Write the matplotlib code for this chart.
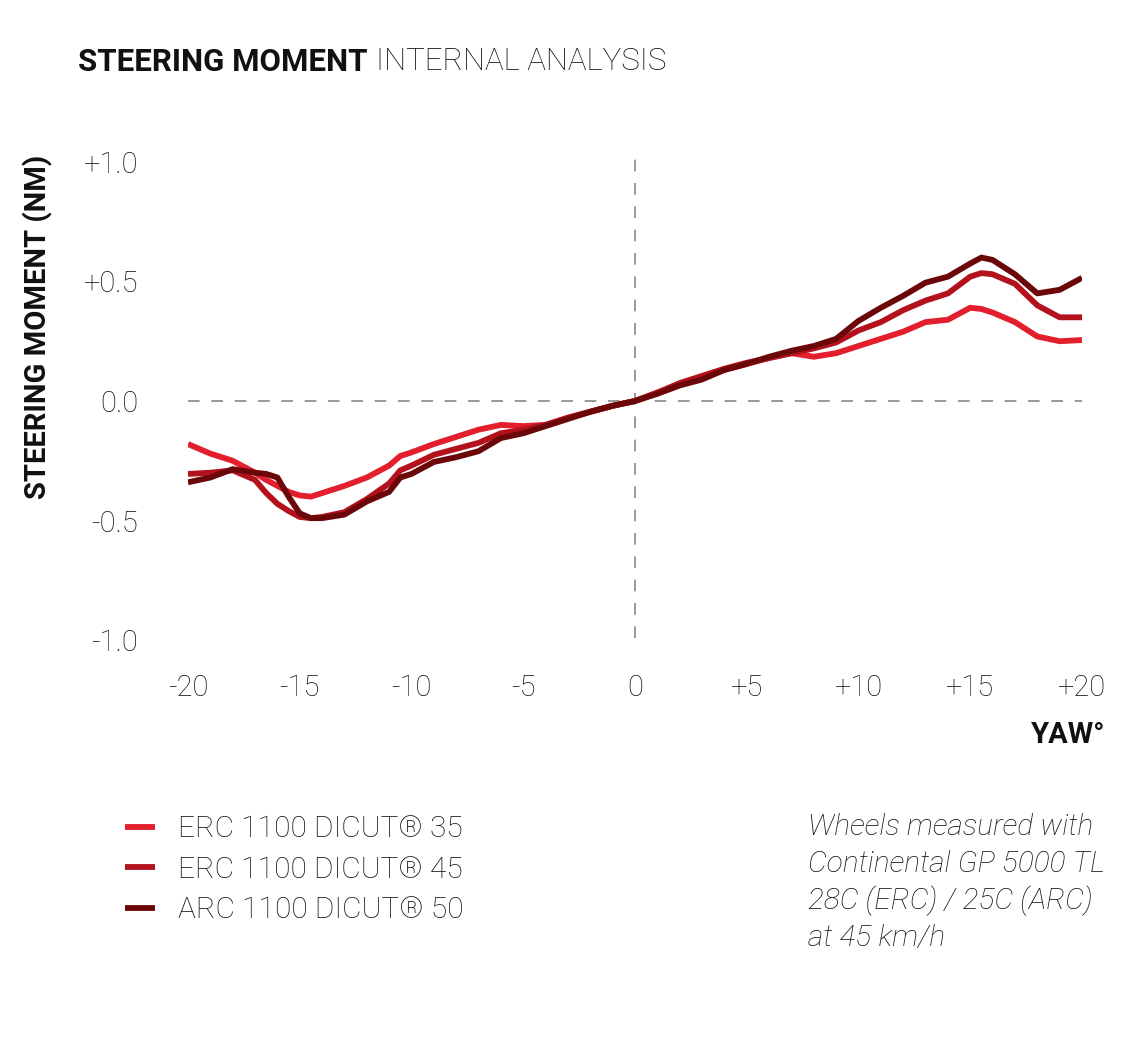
import matplotlib
matplotlib.use("Agg")
import matplotlib.pyplot as plt

# yaw angle in degrees
yaw = [-20, -19, -18, -17, -16.5, -16, -15.5, -15, -14.5, -14, -13, -12, -11, -10.5, -10,
       -9, -8, -7, -6, -5, -4, -3, -2, -1, 0, 1, 2, 3, 4, 5, 6, 7, 8, 9, 10, 11, 12, 13,
       14, 15, 15.5, 16, 17, 18, 19, 20]

# steering moment (Nm)
erc35 = [-0.18, -0.22, -0.25, -0.30, -0.33, -0.355, -0.38, -0.395, -0.40, -0.385, -0.355,
         -0.32, -0.27, -0.23, -0.215, -0.18, -0.15, -0.12, -0.10, -0.105, -0.10, -0.07,
         -0.045, -0.02, 0.0, 0.035, 0.07, 0.10, 0.13, 0.155, 0.18, 0.20, 0.185, 0.20, 0.23,
         0.26, 0.29, 0.33, 0.34, 0.39, 0.385, 0.37, 0.33, 0.27, 0.25, 0.255]
erc45 = [-0.305, -0.30, -0.29, -0.33, -0.385, -0.43, -0.46, -0.485, -0.49, -0.485, -0.465,
         -0.41, -0.345, -0.29, -0.27, -0.225, -0.20, -0.175, -0.135, -0.12, -0.10, -0.07,
         -0.045, -0.02, 0.0, 0.035, 0.075, 0.105, 0.135, 0.16, 0.18, 0.20, 0.22, 0.245,
         0.295, 0.33, 0.38, 0.42, 0.45, 0.52, 0.535, 0.53, 0.49, 0.40, 0.35, 0.35]
arc50 = [-0.34, -0.32, -0.285, -0.30, -0.305, -0.32, -0.40, -0.47, -0.49, -0.49, -0.475,
         -0.42, -0.38, -0.32, -0.305, -0.255, -0.235, -0.21, -0.155, -0.135, -0.105, -0.075,
         -0.045, -0.02, 0.0, 0.03, 0.065, 0.09, 0.13, 0.155, 0.185, 0.21, 0.23, 0.26,
         0.335, 0.39, 0.44, 0.495, 0.52, 0.575, 0.60, 0.59, 0.53, 0.45, 0.465, 0.515]

labels = ["ERC 1100 DICUT\u00ae 35", "ERC 1100 DICUT\u00ae 45", "ARC 1100 DICUT\u00ae 50"]
colors = ["#e31e2d", "#b3121d", "#6b0708"]
x_ticks = [-20, -15, -10, -5, 0, 5, 10, 15, 20]
x_ticklabels = ["-20", "-15", "-10", "-5", "0", "+5", "+10", "+15", "+20"]
y_ticks = [-1.0, -0.5, 0.0, 0.5, 1.0]
y_ticklabels = ["-1.0", "-0.5", "0.0", "+0.5", "+1.0"]

W, H = 1140, 1052
fig = plt.figure(figsize=(W / 100, H / 100), dpi=100)
ax = fig.add_axes([188 / W, (H - 664) / H, 894 / W, 526 / H])

font = "Roboto"
txt = "#111111"

# dashed zero lines
ax.plot([-20, 20], [0, 0], color="#999999", lw=1.4, dashes=(6, 6), zorder=1, clip_on=False)
ax.plot([0, 0], [-0.99, 1.06], color="#999999", lw=1.4, dashes=(6, 6), zorder=1, clip_on=False)

for ys, c, lab in zip([erc35, erc45, arc50], colors, labels):
    ax.plot(yaw, ys, color=c, lw=4.2, solid_capstyle="butt", solid_joinstyle="round",
            label=lab, zorder=3)

ax.set_xlim(-20, 20)
ax.set_ylim(-1.1, 1.1)
for s in ax.spines.values():
    s.set_visible(False)
ax.set_xticks(x_ticks)
ax.set_xticklabels(x_ticklabels)
ax.set_yticks(y_ticks)
ax.set_yticklabels(y_ticklabels)
ax.tick_params(length=0, labelsize=21, labelcolor=txt)
ax.tick_params(axis="x", pad=7)
ax.tick_params(axis="y", pad=36)
for t in ax.get_xticklabels() + ax.get_yticklabels():
    t.set_fontfamily(font)
    t.set_fontweight("light")

# axis titles
fig.text(38 / W, 1 - 327 / H, "STEERING MOMENT (NM)", rotation=90, ha="center", va="center",
         fontsize=21, fontweight="bold", family=font, color=txt)
fig.text(1105 / W, 1 - 735 / H, "YAW\u00b0", ha="right", va="center",
         fontsize=21, fontweight="bold", family=font, color=txt)

# title in two weights
t1 = fig.text(78 / W, 1 - 62 / H, "STEERING MOMENT", ha="left", va="center",
              fontsize=22.5, fontweight="bold", family=font, color=txt)
fig.canvas.draw()
bb = t1.get_window_extent()
fig.text((bb.x1 + 8) / W, 1 - 62 / H, "INTERNAL ANALYSIS", ha="left", va="center",
         fontsize=22.5, fontweight="light", family=font, color=txt)

# legend
leg = ax.legend(loc="upper left", bbox_to_anchor=(125 / W, 1 - 815 / H),
                bbox_transform=fig.transFigure, frameon=False, handlelength=1.0,
                handletextpad=0.77, labelspacing=0.42, borderpad=0, borderaxespad=0,
                prop={"family": font, "weight": "light", "size": 21.5})
for t in leg.get_texts():
    t.set_color(txt)

# note
note = ["Wheels measured with", "Continental GP 5000 TL", "28C (ERC) / 25C (ARC)", "at 45 km/h"]
for i, line in enumerate(note):
    fig.text(808 / W, 1 - (827 + 37 * i) / H, line, ha="left", va="center", fontsize=21.5,
             fontweight="light", style="italic", family=font, color=txt)

fig.savefig("out.png", dpi=100, facecolor="white")
